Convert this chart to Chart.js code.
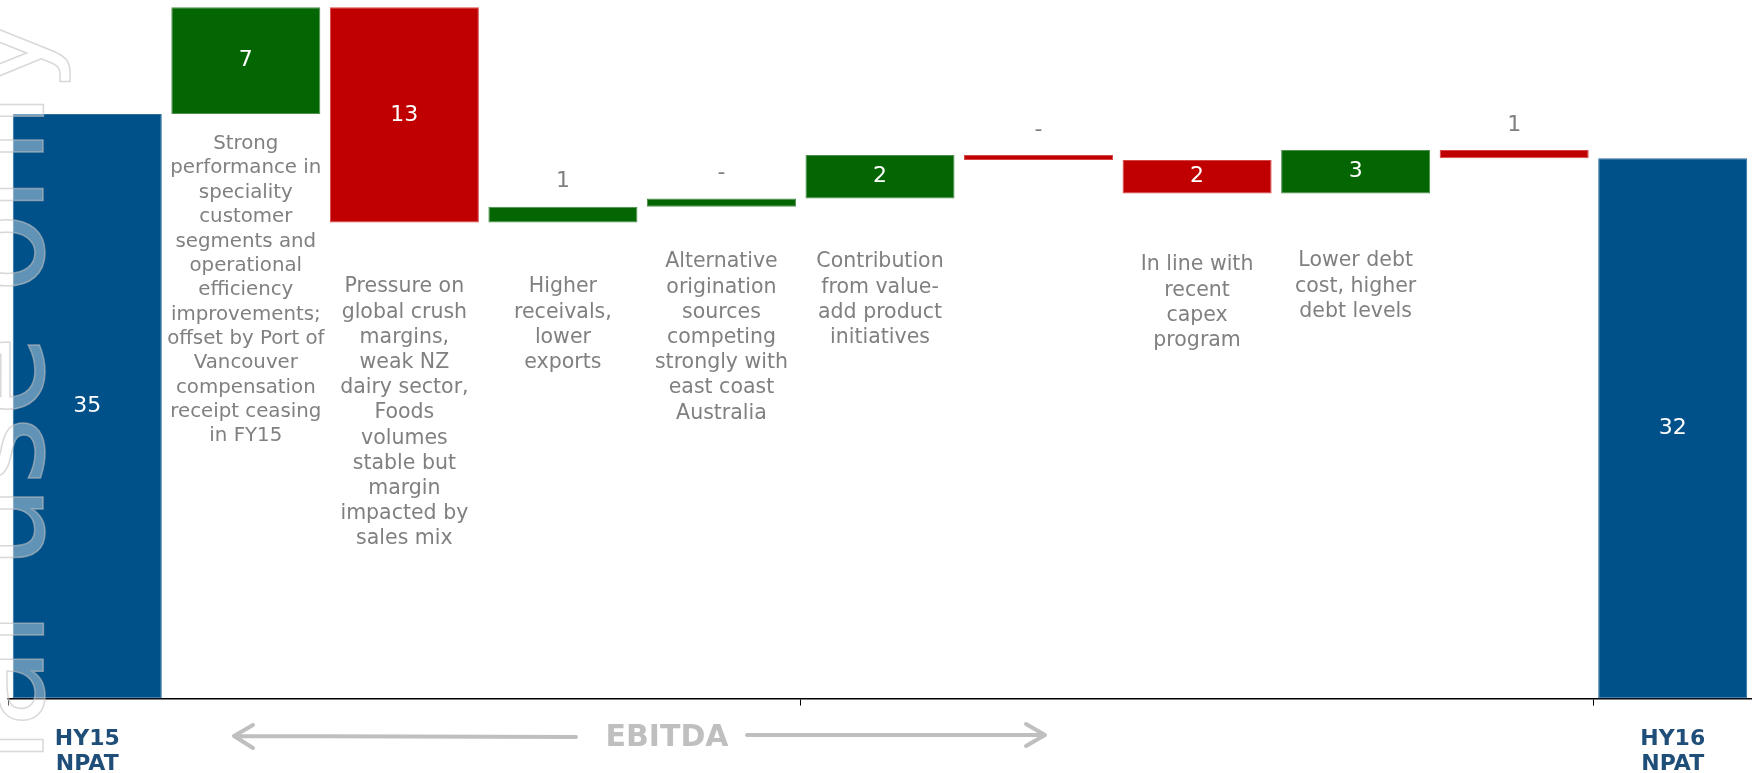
<!DOCTYPE html>
<html>
<head>
<meta charset="utf-8">
<title>NPAT bridge HY15 to HY16</title>
<script src="https://cdn.jsdelivr.net/npm/chart.js@4.4.1/dist/chart.umd.min.js"></script>
<style>
  html, body { margin: 0; padding: 0; background: #fff; }
  #bridgeChart { display: block; }
</style>
</head>
<body>
<canvas id="bridgeChart" width="1752" height="773"></canvas>
<script>
// values (A$m)
const axisLabels = [['HY15', 'NPAT'], '', '', '', '', '', '', '', '', '', ['HY16', 'NPAT']];
const openingNpat = 35.0;
const movements = [6.4, -12.9, 0.95, 0.5, 2.6, -0.3, -2.0, 2.6, -0.5];
const closingNpat = 32.35;
const valueLabels = ['35', '7', '13', '1', '-', '2', '-', '2', '3', '1', '32'];

const notes = [
    [],
    ['Strong', 'performance in', 'speciality', 'customer', 'segments and', 'operational', 'efficiency',
     'improvements;', 'offset by Port of', 'Vancouver', 'compensation', 'receipt ceasing', 'in FY15'],
    ['Pressure on', 'global crush', 'margins,', 'weak NZ', 'dairy sector,', 'Foods', 'volumes',
     'stable but', 'margin', 'impacted by', 'sales mix'],
    ['Higher', 'receivals,', 'lower', 'exports'],
    ['Alternative', 'origination', 'sources', 'competing', 'strongly with', 'east coast', 'Australia'],
    ['Contribution', 'from value-', 'add product', 'initiatives'],
    [],
    ['In line with', 'recent', 'capex', 'program'],
    ['Lower debt', 'cost, higher', 'debt levels'],
    [],
    []
];

// layout for the note text boxes (first line centre, font size)
const noteTops = [0, 144, 287, 287, 262, 262, 0, 265, 261, 0, 0];
const noteSizes = [0, 19.8, 20.5, 20.5, 20.5, 20.5, 0, 20.5, 20.5, 0, 0];

// build floating bars for the waterfall
const floating = [[0, openingNpat]];
let running = openingNpat;
movements.forEach(m => {
    floating.push([running, running + m]);
    running += m;
});
floating.push([0, closingNpat]);

const lastIdx = floating.length - 1;
const barColors = floating.map((d, i) => {
    if (i === 0 || i === lastIdx) return '#00518A';
    return d[1] >= d[0] ? '#036603' : '#C00000';
});
const edgeColors = floating.map((d, i) => {
    if (i === 0 || i === lastIdx) return '#2C6E9E';
    return d[1] >= d[0] ? '#4C8F4C' : '#D64545';
});

const annotate = {
    id: 'annotate',
    afterDatasetsDraw(chart) {
        const ctx = chart.ctx;
        const ys = chart.scales.y;
        const meta = chart.getDatasetMeta(0);
        ctx.save();
        ctx.textAlign = 'center';
        ctx.textBaseline = 'middle';

        meta.data.forEach((bar, i) => {
            const lo = Math.min(floating[i][0], floating[i][1]);
            const hi = Math.max(floating[i][0], floating[i][1]);
            const top = ys.getPixelForValue(hi);
            const bottom = ys.getPixelForValue(lo);
            ctx.font = '22px "DejaVu Sans"';
            if (hi - lo >= 1.5) {
                ctx.fillStyle = '#ffffff';
                ctx.fillText(valueLabels[i], bar.x, (top + bottom) / 2);
            } else {
                ctx.fillStyle = '#808080';
                ctx.fillText(valueLabels[i], bar.x, top - 25);
            }

            const lines = notes[i];
            if (lines.length) {
                const size = noteSizes[i];
                ctx.font = size + 'px "DejaVu Sans"';
                ctx.fillStyle = '#808080';
                lines.forEach((ln, k) => {
                    ctx.fillText(ln, bar.x, noteTops[i] + k * size * 1.23);
                });
            }
        });

        // EBITDA span marker
        ctx.strokeStyle = '#BFBFBF';
        ctx.fillStyle = '#BFBFBF';
        ctx.lineWidth = 4;
        ctx.lineCap = 'round';
        ctx.lineJoin = 'round';
        ctx.beginPath();
        ctx.moveTo(576, 737); ctx.lineTo(234, 736);
        ctx.moveTo(253, 725); ctx.lineTo(234, 736); ctx.lineTo(253, 748);
        ctx.moveTo(747, 735); ctx.lineTo(1045, 735);
        ctx.moveTo(1026, 724); ctx.lineTo(1045, 735); ctx.lineTo(1026, 746);
        ctx.stroke();
        ctx.font = 'bold 30px "DejaVu Sans"';
        ctx.fillText('EBITDA', 667, 738);
        ctx.restore();
    },
    afterDraw(chart) {
        // faint watermark down the left edge
        const ctx = chart.ctx;
        ctx.save();
        ctx.translate(43, 14);
        ctx.rotate(-Math.PI / 2);
        ctx.font = '132px "DejaVu Sans"';
        ctx.textAlign = 'right';
        ctx.textBaseline = 'alphabetic';
        ctx.fillStyle = 'rgba(255, 255, 255, 0.38)';
        ctx.fillText('For personal use only', 0, 0);
        ctx.strokeStyle = 'rgba(190, 190, 190, 0.6)';
        ctx.lineWidth = 1.5;
        ctx.strokeText('For personal use only', 0, 0);
        ctx.restore();
    }
};

new Chart(document.getElementById('bridgeChart'), {
    type: 'bar',
    data: {
        labels: axisLabels,
        datasets: [{
            data: floating,
            backgroundColor: barColors,
            borderColor: edgeColors,
            borderWidth: 1,
            borderSkipped: false,
            categoryPercentage: 1.0,
            barPercentage: 0.94
        }]
    },
    options: {
        responsive: false,
        animation: false,
        layout: { padding: { left: 8, right: 0, top: 0, bottom: -25 } },
        plugins: {
            legend: { display: false },
            tooltip: { enabled: false }
        },
        scales: {
            x: {
                offset: true,
                grid: {
                    offset: true,
                    drawOnChartArea: false,
                    drawTicks: true,
                    tickLength: 7,
                    lineWidth: 1,
                    color: ctx => (ctx.index % 5 === 0 ? '#000000' : 'rgba(0,0,0,0)')
                },
                border: { display: true, color: '#000000', width: 1.5 },
                ticks: {
                    autoSkip: false,
                    maxRotation: 0,
                    padding: 22,
                    color: '#1F4E79',
                    font: { family: 'DejaVu Sans', size: 22, weight: 'bold', lineHeight: 1.1 }
                }
            },
            y: {
                display: false,
                min: 0,
                max: 41.83
            }
        }
    },
    plugins: [annotate]
});
</script>
</body>
</html>
